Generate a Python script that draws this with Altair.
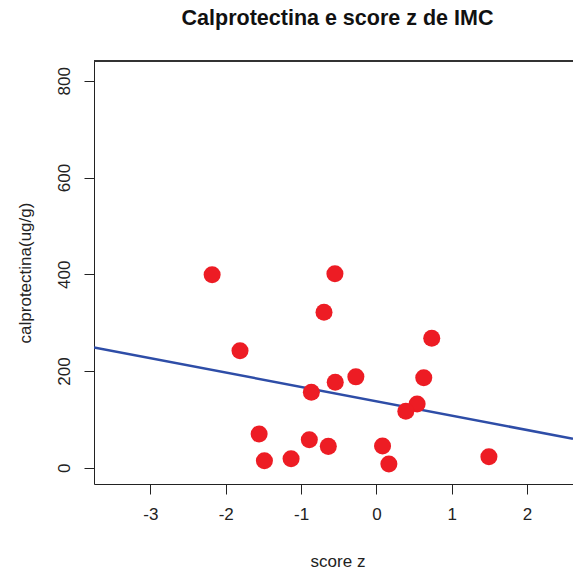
import altair as alt
import pandas as pd

score_z = [-2.18, -0.55, -0.695, -1.81, -0.546, -0.272, -0.863, -1.556, -1.486,
           -1.132, -0.89, -0.638, 0.735, 0.629, 0.541, 0.391, 0.082, 0.166, 1.494]
calpro = [399, 401, 321.5, 242, 177, 188, 156, 70, 14.5,
          18.6, 58, 44.3, 268, 186, 132, 117, 45, 8, 23]

x_ticks = [-3, -2, -1, 0, 1, 2]
y_ticks = [0, 200, 400, 600, 800]
x_dom = [-3.748, 2.61]
y_dom = [-33.5, 841]

df = pd.DataFrame({"x": score_z, "y": calpro})

W, H = 479, 423
FONT = "Liberation Sans"

xscale = alt.Scale(domain=x_dom, nice=False, zero=False)
yscale = alt.Scale(domain=y_dom, nice=False, zero=False)

xaxis = alt.Axis(values=x_ticks, title="score z", grid=False, tickSize=10,
                 labelExpr="'' + datum.value",
                 labelPadding=12, labelFontSize=17, titleFontSize=17,
                 titleFontWeight="normal", titleX=243.5, titleY=82,
                 titleBaseline="alphabetic", titleAlign="center",
                 domainColor="#222", tickColor="#222", labelColor="#222",
                 titleColor="#222", labelFlush=False, labelFont=FONT, titleFont=FONT)
yaxis = alt.Axis(values=y_ticks, title="calprotectina(ug/g)", grid=False, tickSize=10,
                 labelExpr="'' + datum.value",
                 labelAngle=270, labelAlign="center", labelBaseline="alphabetic",
                 labelPadding=15, labelFontSize=17, titleFontSize=17,
                 titleFontWeight="normal", titleAngle=270, titleX=-64, titleY=211.5,
                 titleBaseline="alphabetic", titleAlign="center",
                 domainColor="#222", tickColor="#222", labelColor="#222",
                 titleColor="#222", labelFlush=False, labelFont=FONT, titleFont=FONT)

points = alt.Chart(df).mark_circle(size=290, color="#ED1C24", opacity=1).encode(
    x=alt.X("x:Q", scale=xscale, axis=xaxis),
    y=alt.Y("y:Q", scale=yscale, axis=yaxis),
)

reg = alt.Chart(df).transform_regression(
    "x", "y", extent=x_dom
).mark_line(color="#2E4DA7", strokeWidth=2.5, clip=True).encode(
    x=alt.X("x:Q", scale=xscale),
    y=alt.Y("y:Q", scale=yscale),
)

top = alt.Chart(df).mark_rule(color="#333", strokeWidth=1).encode(
    x=alt.value(0), x2=alt.value(W), y=alt.value(0)
)

chart = alt.layer(reg, points, top).properties(
    width=W, height=H,
    title=alt.TitleParams("Calprotectina e score z de IMC", fontSize=21.5,
                          font=FONT, fontWeight="bold", color="#111",
                          anchor="middle", dx=4, offset=31),
    autosize=alt.AutoSizeParams(type="none"),
    padding={"left": 94, "top": 61, "right": 0, "bottom": 88},
).configure_view(stroke=None).configure(background="white")

chart.save("out.html", embed_options={"renderer": "svg", "actions": False})
